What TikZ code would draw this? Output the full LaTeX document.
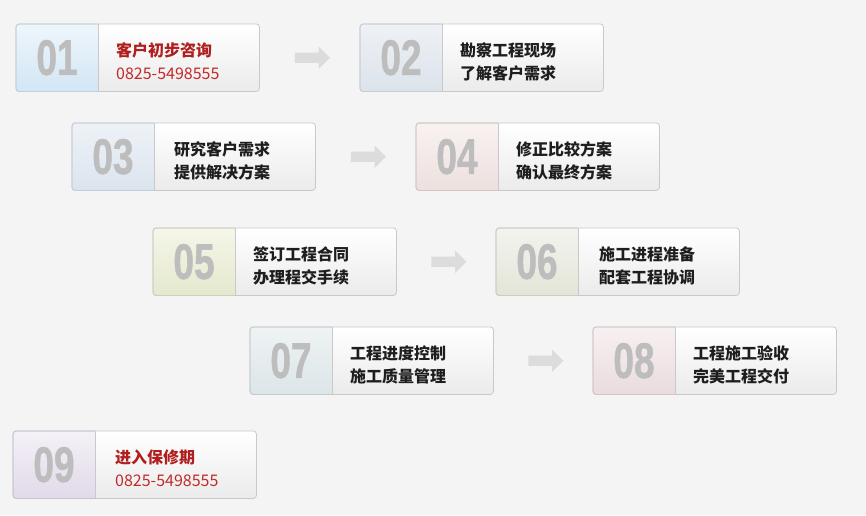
\documentclass[tikz,border=0pt]{standalone}
\usepackage{fontspec}
\setmainfont{Liberation Sans}
\newfontfamily\cjk{Noto Sans CJK SC}
\newfontfamily\numfont[BoldFeatures={FakeBold=1.2}]{Liberation Sans}
\usetikzlibrary{shapes.arrows,calc}
\definecolor{bgc}{HTML}{F4F4F4}
\definecolor{bordc}{HTML}{C9C9C9}
\definecolor{numc}{HTML}{BDBDBD}
\definecolor{redt}{HTML}{B01E1E}
\definecolor{redp}{HTML}{C22A2A}
\definecolor{txtc}{HTML}{1E1E1E}
\definecolor{arrc}{HTML}{DCDCDC}
\definecolor{rb}{HTML}{EBEBEB}
\definecolor{t1}{HTML}{EEF6FB}\definecolor{d1}{HTML}{D2E6F4}\definecolor{e1}{HTML}{B9D3E6}
\definecolor{t2}{HTML}{EEF1F5}\definecolor{d2}{HTML}{DCE3EB}\definecolor{e2}{HTML}{C5CDD6}
\definecolor{t3}{HTML}{EEF2F7}\definecolor{d3}{HTML}{DBE4EE}\definecolor{e3}{HTML}{C4CEDA}
\definecolor{t4}{HTML}{F8F2F1}\definecolor{d4}{HTML}{EDE0DE}\definecolor{e4}{HTML}{D4C6C4}
\definecolor{t5}{HTML}{F5F6E8}\definecolor{d5}{HTML}{E5E8CE}\definecolor{e5}{HTML}{CDD0B8}
\definecolor{t6}{HTML}{F3F3EE}\definecolor{d6}{HTML}{E3E5D8}\definecolor{e6}{HTML}{CBCDC2}
\definecolor{t7}{HTML}{EFF3F4}\definecolor{d7}{HTML}{DCE5E8}\definecolor{e7}{HTML}{C2CDD1}
\definecolor{t8}{HTML}{F7F0F1}\definecolor{d8}{HTML}{EADBDE}\definecolor{e8}{HTML}{D3C4C7}
\definecolor{t9}{HTML}{F4F1F7}\definecolor{d9}{HTML}{E1D9E9}\definecolor{e9}{HTML}{CAC1D3}
\tikzset{
  boxbody/.style={draw=none, minimum width=243pt, minimum height=67pt, inner sep=0pt, anchor=north west},
  numtext/.style={text=numc, font=\numfont\fontsize{50}{50}\selectfont\bfseries, inner sep=0pt, xscale=0.74},
  linetext/.style={anchor=west, align=left, inner sep=0pt, font=\cjk\fontsize{16}{23.5}\selectfont},
  blockarrow/.style={single arrow, fill=arrc, draw=none, minimum height=35pt, single arrow head extend=6pt, inner sep=5pt, single arrow tip angle=90},
}
% #1 name, #2 x, #3 y, #4 number, #5 colour index
\newcommand{\flowbox}[5]{%
  \node[boxbody] (#1) at (#2,#3) {};
  \shade[rounded corners=3pt, top color=white, bottom color=rb] (#1.north west) rectangle (#1.south east);
  \begin{scope}
    \clip[rounded corners=3pt] (#1.north west) rectangle (#1.south east);
    \shade[top color=t#5, bottom color=d#5] (#1.north west) rectangle ($(#1.south west)+(82,0)$);
  \end{scope}
  \draw[draw=bordc, line width=0.8pt, rounded corners=3pt] (#1.north west) rectangle (#1.south east);
  \draw[draw=e#5, line width=0.8pt, rounded corners=3pt] ($(#1.north west)+(82,0)$) -- (#1.north west) -- (#1.south west) -- ($(#1.south west)+(82,0)$);
  \draw[draw=bordc, line width=0.8pt] ($(#1.north west)+(82,0)$) -- ($(#1.south west)+(82,0)$);
  \node[numtext] (#1num) at ($(#1.west)+(41,0)$) {#4};
}
\begin{document}
\begin{tikzpicture}[x=1pt,y=-1pt]
\fill[bgc] (0,0) rectangle (866,515);
\useasboundingbox (0,0) rectangle (866,515);

\flowbox{b1}{16}{24}{01}{1}
\flowbox{b2}{360}{24}{02}{2}
\flowbox{b3}{72}{123}{03}{3}
\flowbox{b4}{416}{123}{04}{4}
\flowbox{b5}{153}{228}{05}{5}
\flowbox{b6}{496}{228}{06}{6}
\flowbox{b7}{250}{327}{07}{7}
\flowbox{b8}{593}{327}{08}{8}
\flowbox{b9}{13}{431}{09}{9}

\node[linetext, text=redt] (t1a) at ($(b1.west)+(100,-7.5)$) {\bfseries 客户初步咨询};
\node[linetext, text=redp] (t1b) at ($(b1.west)+(100,16)$) {0825-5498555};
\node[linetext, text=txtc] (t2) at ($(b2.west)+(100,4)$) {\bfseries 勘察工程现场\\\bfseries 了解客户需求};
\node[linetext, text=txtc] (t3) at ($(b3.west)+(102,4)$) {\bfseries 研究客户需求\\\bfseries 提供解决方案};
\node[linetext, text=txtc] (t4) at ($(b4.west)+(100,4)$) {\bfseries 修正比较方案\\\bfseries 确认最终方案};
\node[linetext, text=txtc] (t5) at ($(b5.west)+(100,4)$) {\bfseries 签订工程合同\\\bfseries 办理程交手续};
\node[linetext, text=txtc] (t6) at ($(b6.west)+(103,4)$) {\bfseries 施工进程准备\\\bfseries 配套工程协调};
\node[linetext, text=txtc] (t7) at ($(b7.west)+(100,4)$) {\bfseries 工程进度控制\\\bfseries 施工质量管理};
\node[linetext, text=txtc] (t8) at ($(b8.west)+(100,4)$) {\bfseries 工程施工验收\\\bfseries 完美工程交付};
\node[linetext, text=redt] (t9a) at ($(b9.west)+(102,-7.5)$) {\bfseries 进入保修期};
\node[linetext, text=redp] (t9b) at ($(b9.west)+(102,16)$) {0825-5498555};

\node[blockarrow] (a12) at ($(b1.east)!0.5!(b2.west)$) {};
\node[blockarrow] (a34) at ($(b3.east)!0.5!(b4.west)$) {};
\node[blockarrow] (a56) at ($(b5.east)!0.5!(b6.west)$) {};
\node[blockarrow] (a78) at ($(b7.east)!0.5!(b8.west)$) {};
\end{tikzpicture}
\end{document}
